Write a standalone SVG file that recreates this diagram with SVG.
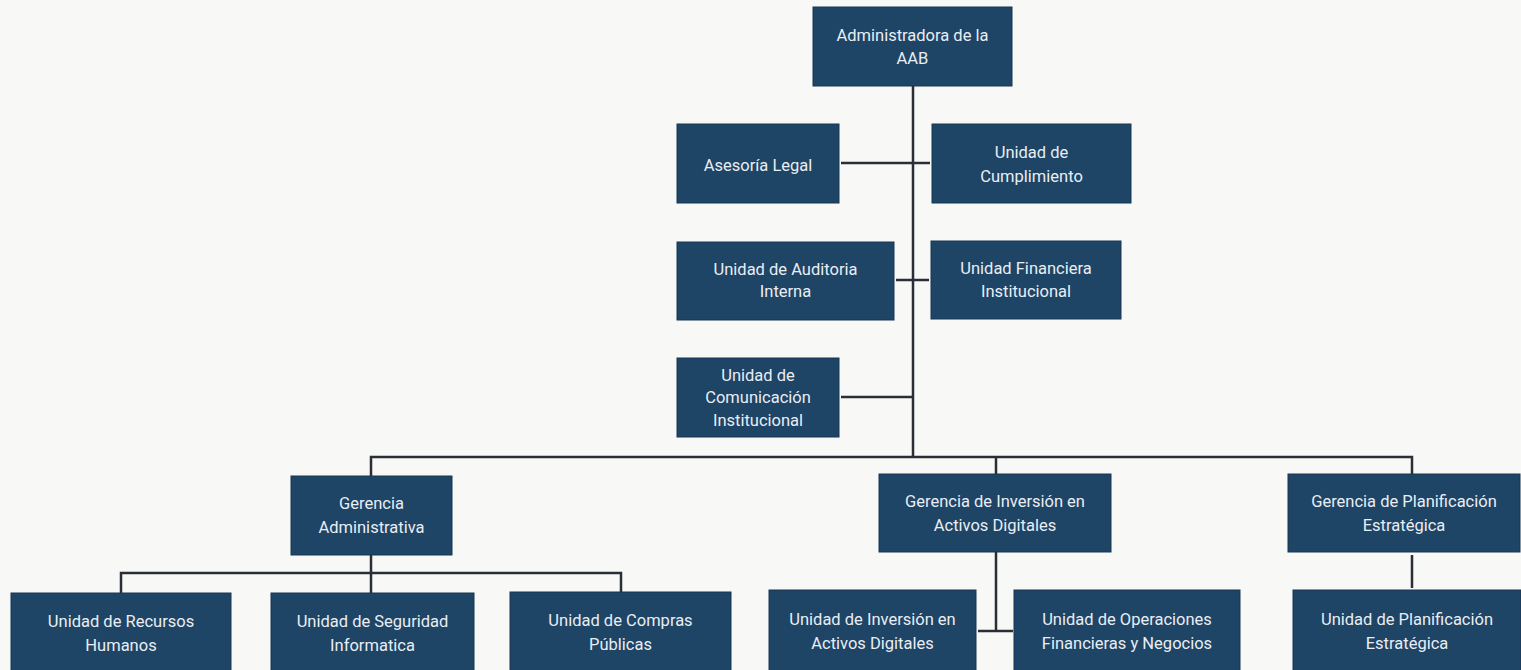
<svg xmlns="http://www.w3.org/2000/svg" width="1521" height="670" viewBox="0 0 1521 670">
<style>
.box{fill:#1e4466;stroke:#173752;stroke-width:1}
.t{font-family:Roboto,"Liberation Sans",sans-serif;font-size:16.5px;fill:#e9eef3;text-anchor:middle;dominant-baseline:central}
.c{stroke:#2a2e35;stroke-width:2.5;fill:none}
</style>
<rect width="1521" height="670" fill="#f8f8f7"/>
<g id="connectors">
<path class="c" d="M913,86 V457"/>
<path class="c" d="M841,163 H930"/>
<path class="c" d="M896,280 H929"/>
<path class="c" d="M841,397 H913"/>
<path class="c" d="M371,476 V457 H1412 V474"/>
<path class="c" d="M996,457 V474"/>
<path class="c" d="M371,555 V593"/>
<path class="c" d="M121,593 V573 H621 V593"/>
<path class="c" d="M996,552 V631"/>
<path class="c" d="M978,631 H1013"/>
<path class="c" d="M1412,555 V588"/>
</g>
<g id="n-aab"><rect class="box" x="813" y="7" width="199" height="79"/><text class="t" x="912.5" y="35">Administradora de la</text><text class="t" x="912.5" y="58">AAB</text></g>
<g id="n-legal"><rect class="box" x="677" y="124" width="162" height="79"/><text class="t" x="758" y="165">Asesoría Legal</text></g>
<g id="n-cumplimiento"><rect class="box" x="932" y="124" width="199" height="79"/><text class="t" x="1031.5" y="152">Unidad de</text><text class="t" x="1031.5" y="176">Cumplimiento</text></g>
<g id="n-auditoria"><rect class="box" x="677" y="242" width="217" height="78"/><text class="t" x="785.5" y="269">Unidad de Auditoria</text><text class="t" x="785.5" y="291">Interna</text></g>
<g id="n-financiera"><rect class="box" x="931" y="241" width="190" height="78"/><text class="t" x="1026" y="268">Unidad Financiera</text><text class="t" x="1026" y="291">Institucional</text></g>
<g id="n-comunicacion"><rect class="box" x="677" y="358" width="162" height="79"/><text class="t" x="758" y="375">Unidad de</text><text class="t" x="758" y="397">Comunicación</text><text class="t" x="758" y="420">Institucional</text></g>
<g id="n-gadm"><rect class="box" x="291" y="476" width="161" height="79"/><text class="t" x="371.5" y="503">Gerencia</text><text class="t" x="371.5" y="527">Administrativa</text></g>
<g id="n-ginv"><rect class="box" x="879" y="474" width="232" height="78"/><text class="t" x="995" y="501">Gerencia de Inversión en</text><text class="t" x="995" y="525">Activos Digitales</text></g>
<g id="n-gplan"><rect class="box" x="1288" y="474" width="232" height="78"/><text class="t" x="1404" y="501">Gerencia de Planificación</text><text class="t" x="1404" y="525">Estratégica</text></g>
<g id="n-rrhh"><rect class="box" x="11" y="593" width="220" height="80"/><text class="t" x="121" y="621">Unidad de Recursos</text><text class="t" x="121" y="645">Humanos</text></g>
<g id="n-seg"><rect class="box" x="271" y="593" width="203" height="80"/><text class="t" x="372.5" y="621">Unidad de Seguridad</text><text class="t" x="372.5" y="645">Informatica</text></g>
<g id="n-compras"><rect class="box" x="510" y="592" width="221" height="80"/><text class="t" x="620.5" y="620">Unidad de Compras</text><text class="t" x="620.5" y="644">Públicas</text></g>
<g id="n-uinv"><rect class="box" x="769" y="590" width="207" height="82"/><text class="t" x="872.5" y="619">Unidad de Inversión en</text><text class="t" x="872.5" y="643">Activos Digitales</text></g>
<g id="n-oper"><rect class="box" x="1014" y="590" width="226" height="82"/><text class="t" x="1127" y="619">Unidad de Operaciones</text><text class="t" x="1127" y="643">Financieras y Negocios</text></g>
<g id="n-uplan"><rect class="box" x="1293" y="590" width="228" height="82"/><text class="t" x="1407" y="619">Unidad de Planificación</text><text class="t" x="1407" y="643">Estratégica</text></g>
</svg>
